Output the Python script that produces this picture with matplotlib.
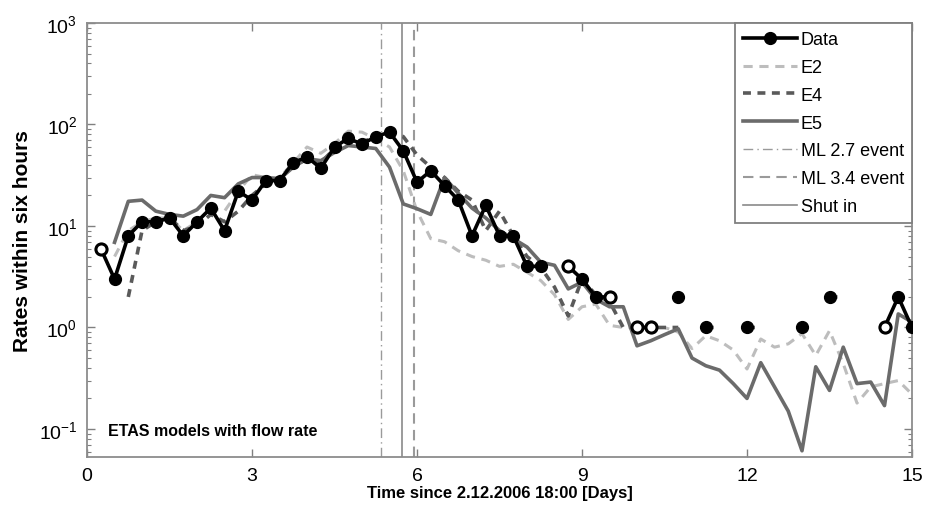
import numpy as np
import matplotlib
matplotlib.use("Agg")
import matplotlib.pyplot as plt
from matplotlib.ticker import FixedLocator, FuncFormatter, LogLocator, NullFormatter

plt.rcParams['font.family'] = ['Liberation Sans', 'DejaVu Sans']

# six-hour bins, days since 2.12.2006 18:00
days = np.arange(0.25, 15.01, 0.25)
nan = np.nan

# observed event counts per six hours (nan = no events)
data = [6, 3, 8, 11, 11, 12, 8, 11, 15, 9,
        22, 18, 28, 28, 42, 48, 37, 60, 73, 64,
        76, 84, 55, 27, 35, 25, 18, 8, 16, 8,
        8, 4, 4, nan, 4, 3, 2, 2, nan, 1,
        1, nan, 2, nan, 1, nan, nan, 1, nan, nan,
        nan, 1, nan, 2, nan, nan, nan, 1, 2, 1]
open_days = [0.25, 8.75, 9.5, 10.0, 10.25, 14.5]

# ETAS model forecasts
e2 = [nan, 5, 9, 11, 12, 12, 9, 11, 15, 14,
      22, 32, 30, 30, 42, 60, 52, 65, 86, 84,
      72, 60, 35, 14, 7.5, 7, 5.7, 5, 4.6, 4.0,
      4.2, 3.5, 2.9, 2.1, 1.2, 1.6, 1.7, 1.05, 1.0, 1.0,
      1.0, 1.0, 0.9, 0.62, 0.83, 0.74, 0.6, 0.39, 0.77, 0.64,
      0.69, 0.87, 0.53, 0.93, 0.44, 0.18, 0.26, 0.28, 0.3, 0.22]
e4 = [nan, nan, 2.0, 9, 11, 12, 9, 10, 13, 11,
      14, 20, 26, 30, 40, 45, 42, 58, 70, 68,
      74, 82, 76, 50, 38, 30, 22, 18, 9, 14,
      8, 5, 3.9, 2.5, 1.3, 3, 2.1, 1.8, 1.0, 1.0,
      1.0, 1.0, 1.0, nan, 1, 1, nan, 1, 1, nan,
      nan, 1, nan, 2, 2, nan, nan, nan, nan, nan]
e5 = [nan, 6.9, 17.5, 18, 14, 13, 12.5, 14.5, 20, 19,
      26, 30, 30, 29, 38, 46, 44, 53, 62, 60,
      58, 38, 16.5, 14.8, 13, 30, 21, 15, 12, 9,
      7.5, 6.2, 4.4, 4.1, 2.4, 2.8, 1.9, 1.6, 1.6, 0.66,
      0.74, 0.85, 0.97, 0.5, 0.42, 0.38, 0.28, 0.2, 0.45, 0.26,
      0.15, 0.061, 0.41, 0.24, 0.64, 0.28, 0.29, 0.17, 1.36, 1.13]

# event times (days)
t_ml27 = 5.35
t_ml34 = 5.95
t_shutin = 5.72

x_ticks = [0, 3, 6, 9, 12, 15]

fig = plt.figure(figsize=(9.29, 5.06), dpi=100)
ax = fig.add_axes([0.0937, 0.0949, 0.888, 0.8577])

ax.plot(days, e2, color='#bdbdbd', lw=2.2, ls=(0, (3, 2.2)), label='E2', zorder=3)
ax.plot(days, e4, color='#5a5a5a', lw=2.6, ls=(0, (2.2, 1.8)), label='E4', zorder=4)
ax.plot(days, e5, color='#6b6b6b', lw=2.6, ls='-', label='E5', zorder=4)
ax.axvline(t_ml27, color='#9a9a9a', lw=1.0, ls=(0, (7, 3, 1, 3)), label='ML 2.7 event', zorder=2)
ax.axvline(t_ml34, color='#9a9a9a', lw=1.5, ls=(0, (5, 3)), label='ML 3.4 event', zorder=2)
ax.axvline(t_shutin, color='#8a8a8a', lw=1.2, ls='-', label='Shut in', zorder=2)

data_arr = np.array(data, dtype=float)
ax.plot(days, data_arr, color='black', lw=2.6, marker='o', ms=8.5,
        mfc='black', mec='black', label='Data', zorder=6)
open_idx = [int(round(d / 0.25)) - 1 for d in open_days]
ax.plot(days[open_idx], data_arr[open_idx], ls='none', marker='o', ms=8.0,
        mfc='white', mec='black', mew=2.2, zorder=7)

ax.set_yscale('log')
ax.set_xlim(0, 15)
ax.set_ylim(0.053, 1000)

ax.xaxis.set_major_locator(FixedLocator(x_ticks))
ax.yaxis.set_major_locator(LogLocator(base=10, numticks=10))
ax.yaxis.set_minor_locator(LogLocator(base=10, subs=np.arange(2, 10), numticks=20))
ax.yaxis.set_minor_formatter(NullFormatter())
ax.yaxis.set_major_formatter(FuncFormatter(lambda v, p: r'$\mathregular{10^{%d}}$' % int(round(np.log10(v)))))

ax.tick_params(which='both', direction='in', top=True, right=True, color='#808080')
ax.tick_params(which='major', length=6, width=1, labelsize=14, pad=7)
ax.tick_params(which='minor', length=3, width=0.8)
for s in ax.spines.values():
    s.set_color('#8c8c8c')
    s.set_linewidth(1.3)

ax.set_xlabel('Time since 2.12.2006 18:00 [Days]', fontsize=12, fontweight='bold', labelpad=1)
ax.set_ylabel('Rates within six hours', fontsize=15, fontweight='bold', labelpad=5)

ax.text(0.025, 0.06, 'ETAS models with flow rate', transform=ax.transAxes,
        fontsize=11.5, fontweight='bold', va='center', ha='left')

handles, labels = ax.get_legend_handles_labels()
order = ['Data', 'E2', 'E4', 'E5', 'ML 2.7 event', 'ML 3.4 event', 'Shut in']
hmap = dict(zip(labels, handles))
leg = ax.legend([hmap[k] for k in order], order, loc='upper right', borderaxespad=0,
                fontsize=13, handlelength=3.0, handletextpad=0.2, labelspacing=0.6,
                fancybox=False, framealpha=1, edgecolor='#808080', borderpad=0.45)
leg.get_frame().set_linewidth(1.3)
leg.set_zorder(10)

fig.savefig('out.png', dpi=100)
